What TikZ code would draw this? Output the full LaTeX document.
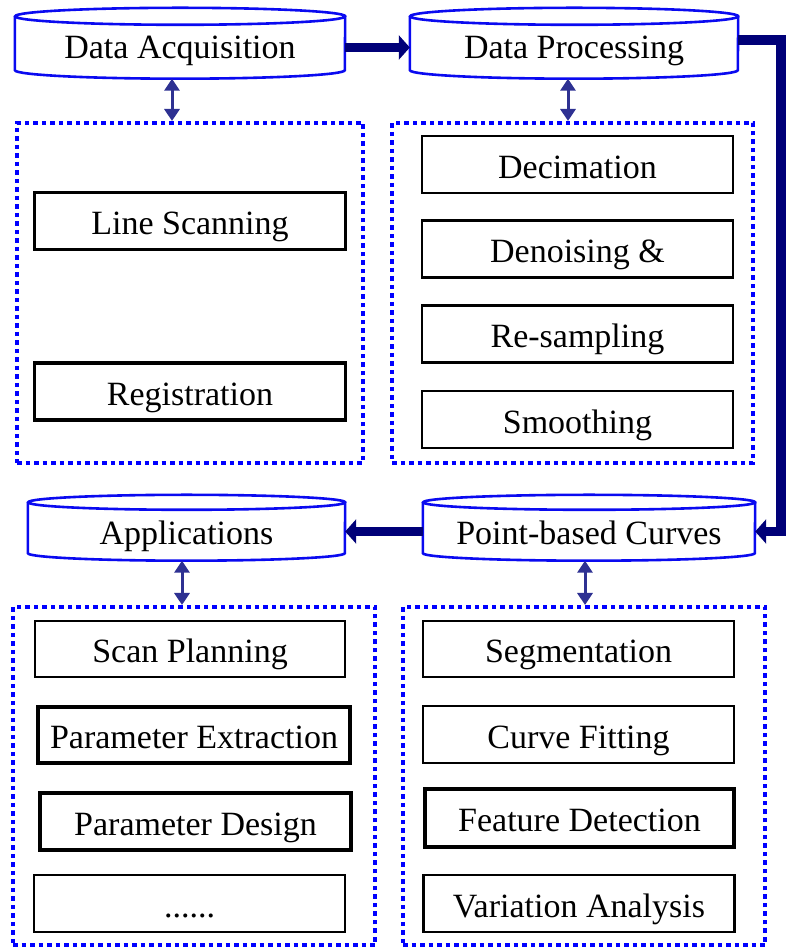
\documentclass[tikz,border=0pt]{standalone}
\usepackage{fontspec}
\setmainfont{Liberation Serif}
\usetikzlibrary{arrows.meta}
\definecolor{cylblue}{HTML}{0A0AF0}
\definecolor{dotblue}{HTML}{0000FF}
\definecolor{navy}{HTML}{000078}
\definecolor{dblblue}{HTML}{2E3192}
\newcommand\drawcyl[3]{% name, x radius, y radius
  \draw[cylline] ([yshift=#3pt]#1.north west) -- (#1.south west)
    arc[start angle=180,end angle=360,x radius=#2pt,y radius=#3pt]
    -- ([yshift=#3pt]#1.north east)
    arc[start angle=0,end angle=360,x radius=#2pt,y radius=#3pt];}
\begin{document}
\begin{tikzpicture}[x=1pt,y=1pt,
  every node/.style={font=\fontsize{34}{40}\selectfont, inner sep=0pt},
  cyltext/.style={text height=23pt, text depth=0pt},
  boxtext/.style={text height=28pt, text depth=0pt},
  cylbody/.style={minimum height=45pt},
  cylline/.style={draw=cylblue, line width=2.6pt, fill=white},
  stepbox/.style={boxtext, draw=black, line width=2.6pt, minimum width=311pt, minimum height=57pt},
  thickbox/.style={stepbox, line width=3.4pt},
  dotbox/.style={draw=dotblue, line width=4pt, dash pattern=on 4.5pt off 4pt},
  bigarrow/.style={draw=navy, line width=9.5pt, line join=miter,
     -{Triangle[width=24pt,length=11pt]}},
  dblarrow/.style={draw=dblblue, line width=3pt,
     {Triangle[width=15pt,length=12pt]}-{Triangle[width=15pt,length=12pt]}}]
\useasboundingbox (0,0) rectangle (789,948);
\fill[white] (0,0) rectangle (789,948);

% dotted frames
\node[dotbox, minimum width=346pt, minimum height=340pt] (tl) at (190,655) {};
\node[dotbox, minimum width=361pt, minimum height=340pt] (tr) at (572.5,655) {};
\node[dotbox, minimum width=362pt, minimum height=338pt] (bl) at (194,172) {};
\node[dotbox, minimum width=362pt, minimum height=338pt] (br) at (584,172) {};

% cylinders (bodies)
\node[cylbody, minimum width=330pt] (da) at (180,900.5) {};
\node[cylbody, minimum width=328pt] (dp) at (574,900.5) {};
\node[cylbody, minimum width=332pt, minimum height=43pt] (pbc) at (589,416.5) {};
\node[cylbody, minimum width=317pt, minimum height=43pt] (app) at (186.5,416.5) {};
\drawcyl{da}{165}{8.5}
\drawcyl{dp}{164}{8.5}
\drawcyl{pbc}{166}{7.5}
\drawcyl{app}{158.5}{7.5}
\node[cyltext] at (da.center) {Data Acquisition};
\node[cyltext] at (dp.center) {Data Processing};
\node[cyltext] at ([yshift=-2pt]pbc.center) {Point-based Curves};
\node[cyltext] at ([yshift=-2pt]app.center) {Applications};

% inner boxes
\node[thickbox] (ls) at (190,727) {Line Scanning};
\node[thickbox] (reg) at (190,556.5) {Registration};
\node[stepbox] (dec) at (577.5,783.5) {Decimation};
\node[stepbox] (den) at (577.5,699) {Denoising \&};
\node[stepbox] (res) at (577.5,614) {Re-sampling};
\node[stepbox] (smo) at (577.5,528.5) {Smoothing};
\node[stepbox, minimum width=310pt, minimum height=56pt] (sp) at (190,299) {Scan Planning};
\node[thickbox, minimum width=312pt, minimum height=56pt] (pe) at (194,213) {Parameter Extraction};
\node[thickbox, minimum height=57pt] (pd) at (195.5,126.5) {Parameter Design};
\node[stepbox] (dots) at (189.5,44.5) {......};
\node[stepbox, minimum height=56pt] (seg) at (578.5,299) {Segmentation};
\node[stepbox] (cf) at (578.5,213.5) {Curve Fitting};
\node[thickbox, minimum width=309pt, minimum height=58pt] (fd) at (579.5,130) {Feature Detection};
\node[stepbox] (va) at (579,44.5) {Variation Analysis};

% big flow arrows
\coordinate (turn) at (781,908);
\draw[bigarrow] (da.east) -- (dp.west);
\draw[bigarrow] ([yshift=7.5pt]dp.east) -- (turn) |- (pbc.east);
\draw[bigarrow] (pbc.west) -- (app.east);

% double arrows
\draw[dblarrow] ([xshift=-8pt,yshift=-8.5pt]da.south) -- ([xshift=-18pt]tl.north);
\draw[dblarrow] ([xshift=-6pt,yshift=-8.5pt]dp.south) -- ([xshift=-4.5pt]tr.north);
\draw[dblarrow] ([xshift=-4pt,yshift=-7.5pt]pbc.south) -- ([xshift=1pt]br.north);
\draw[dblarrow] ([xshift=-4.5pt,yshift=-7.5pt]app.south) -- ([xshift=-12pt]bl.north);
\end{tikzpicture}
\end{document}
